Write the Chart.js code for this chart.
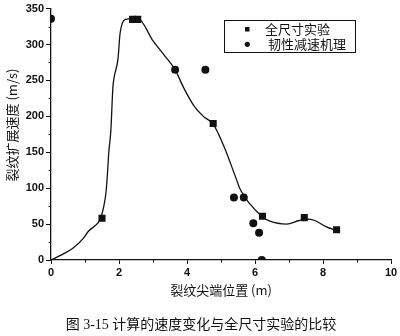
<!DOCTYPE html>
<html>
<head>
<meta charset="utf-8">
<script src="https://cdn.jsdelivr.net/npm/chart.js@4/dist/chart.umd.min.js"></script>
<style>
  html, body { margin: 0; padding: 0; background: #fff; }
  #wrap { width: 400px; height: 336px; }
</style>
</head>
<body>
<div id="wrap"><canvas id="speed-chart" width="400" height="336"></canvas></div>
<script>
// crack tip position (m) vs crack propagation speed (m/s)
const fullScaleX = [1.5, 2.4, 2.55, 4.77, 6.22, 7.45, 8.4];
const fullScaleY = [58, 335, 335, 190, 61, 59, 42];

const ductileX = [0, 3.65, 4.54, 5.38, 5.67, 5.95, 6.12, 6.2];
const ductileY = [336, 265, 265, 87, 87, 51, 38, 0];

// computed speed curve
const calcX = [0, 0.26, 0.66, 0.95, 1.1, 1.3, 1.44, 1.54, 1.62, 1.66, 1.7, 1.76, 1.82, 1.86, 1.97, 2.03, 2.1, 2.2, 2.4, 2.56,
  3.0, 3.3, 3.65, 3.9, 4.2, 4.48, 4.77, 5.07, 5.44, 5.55, 5.85, 6.2, 6.44, 6.93, 7.3, 7.52, 7.76, 8.1, 8.4];
const calcY = [0, 6, 17, 30, 40, 48, 56, 72, 95, 120, 150, 180, 240, 255, 280, 315, 330, 335, 336, 336,
  305, 287, 265, 240, 215, 200, 189, 160, 114, 100, 78, 61, 54, 50, 55, 57, 55, 46, 41];

const xMinorTicks = [1, 3, 5, 7, 9];
const yMinorTicks = [25, 75, 125, 175, 225, 275, 325];

const legendLabels = ['全尺寸实验', '韧性减速机理'];
const xTitle = '裂纹尖端位置 (m)';
const yTitle = '裂纹扩展速度 (m/s)';
const caption = '图 3-15 计算的速度变化与全尺寸实验的比较';

const toPoints = (xs, ys) => xs.map((x, i) => ({ x: x, y: ys[i] }));

const ink = '#111';

// minor ticks, legend box, axis titles and caption
const decorations = {
  id: 'decorations',
  afterDraw(chart) {
    const ctx = chart.ctx;
    const xs = chart.scales.x;
    const ys = chart.scales.y;
    const area = chart.chartArea;
    ctx.save();
    ctx.strokeStyle = ink;
    ctx.fillStyle = ink;
    ctx.lineWidth = 1;

    ctx.beginPath();
    xMinorTicks.forEach(v => {
      const px = Math.round(xs.getPixelForValue(v)) + 0.5;
      ctx.moveTo(px, area.bottom);
      ctx.lineTo(px, area.bottom + 2.5);
    });
    yMinorTicks.forEach(v => {
      const py = Math.round(ys.getPixelForValue(v)) + 0.5;
      ctx.moveTo(area.left - 2.5, py);
      ctx.lineTo(area.left, py);
    });
    ctx.stroke();

    // legend
    ctx.strokeRect(224.5, 20.5, 131, 32);
    ctx.fillRect(245, 27, 4.5, 4.5);
    ctx.beginPath();
    ctx.arc(247.3, 44.3, 2.6, 0, Math.PI * 2);
    ctx.fill();
    ctx.font = '13px "Noto Sans CJK SC"';
    ctx.textBaseline = 'middle';
    ctx.textAlign = 'left';
    ctx.fillText(legendLabels[0], 265, 29);
    ctx.fillText(legendLabels[1], 268, 44);

    // axis titles
    ctx.textAlign = 'center';
    ctx.fillText(xTitle, 221, 290);
    ctx.save();
    ctx.translate(12, 125);
    ctx.rotate(-Math.PI / 2);
    ctx.fillText(yTitle, 0, 0);
    ctx.restore();

    ctx.font = '14px "Liberation Serif", "Noto Sans CJK SC"';
    ctx.fillText(caption, 201, 325);
    ctx.restore();
  }
};

new Chart(document.getElementById('speed-chart'), {
  data: {
    datasets: [
      {
        type: 'scatter',
        label: legendLabels[0],
        data: toPoints(fullScaleX, fullScaleY),
        pointStyle: 'rect',
        pointRadius: 5,
        backgroundColor: ink,
        borderColor: ink,
        borderWidth: 0
      },
      {
        type: 'scatter',
        label: legendLabels[1],
        data: toPoints(ductileX, ductileY),
        pointStyle: 'circle',
        pointRadius: 4,
        backgroundColor: ink,
        borderColor: ink,
        borderWidth: 0
      },
      {
        type: 'line',
        label: 'calc',
        data: toPoints(calcX, calcY),
        borderColor: ink,
        borderWidth: 1.3,
        pointRadius: 0,
        cubicInterpolationMode: 'monotone',
        fill: false
      }
    ]
  },
  options: {
    responsive: false,
    animation: false,
    layout: { padding: { top: 6, right: 9, left: 0, bottom: 0 } },
    plugins: {
      legend: { display: false },
      tooltip: { enabled: false }
    },
    scales: {
      x: {
        type: 'linear',
        min: 0,
        max: 10,
        border: { display: true, color: ink, width: 1.3 },
        grid: { drawOnChartArea: false, drawTicks: true, tickLength: 4, color: ink },
        ticks: { stepSize: 2, color: ink, padding: 2, font: { family: '"Liberation Sans"', size: 11, weight: 'bold' } },
        afterFit: s => { s.height = 76; }
      },
      y: {
        type: 'linear',
        min: 0,
        max: 350,
        border: { display: true, color: ink, width: 1.3 },
        grid: { drawOnChartArea: false, drawTicks: true, tickLength: 5, color: ink },
        ticks: { stepSize: 50, color: ink, padding: 2, font: { family: '"Liberation Sans"', size: 11, weight: 'bold' } },
        afterFit: s => { s.width = 51; }
      }
    }
  },
  plugins: [decorations]
});
</script>
</body>
</html>
